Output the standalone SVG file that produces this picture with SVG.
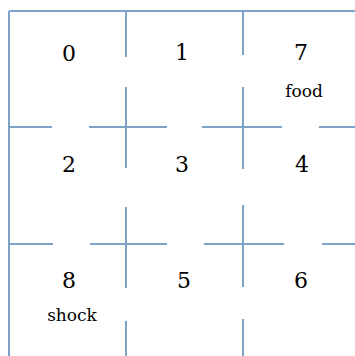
<svg xmlns="http://www.w3.org/2000/svg" width="355" height="356" viewBox="0 0 355 356">
<style>
.w{stroke:#7fa2cb;stroke-width:2;fill:none}
.n{font-size:22px;fill:#000;text-anchor:middle}
.l{font-size:17px;fill:#000;text-anchor:middle}
</style>
<rect width="355" height="356" fill="#fff"/>
<g id="walls">
<path class="w" d="M9,11H355M9,11V356"/>
<path class="w" d="M126,11V57M126,87V168M126,207V288M126,321V356"/>
<path class="w" d="M243,11V55M243,87V169M243,205V287M243,319V356"/>
<path class="w" d="M9,127H52M89,127H167M202,127H282M319,127H355"/>
<path class="w" d="M9,244H53M90,244H167M204,244H284M322,244H355"/>
</g>
<g font-family="DejaVu Serif, Liberation Serif, serif">
<g id="s0"><text class="n" x="69" y="61">0</text></g>
<g id="s1"><text class="n" x="182" y="60">1</text></g>
<g id="s7"><text class="n" x="301" y="60">7</text><text class="l" x="304" y="97">food</text></g>
<g id="s2"><text class="n" x="69" y="172">2</text></g>
<g id="s3"><text class="n" x="182" y="172">3</text></g>
<g id="s4"><text class="n" x="302" y="172">4</text></g>
<g id="s8"><text class="n" x="69" y="288">8</text><text class="l" x="72" y="321">shock</text></g>
<g id="s5"><text class="n" x="184" y="288">5</text></g>
<g id="s6"><text class="n" x="301" y="288">6</text></g>
</g>
</svg>
